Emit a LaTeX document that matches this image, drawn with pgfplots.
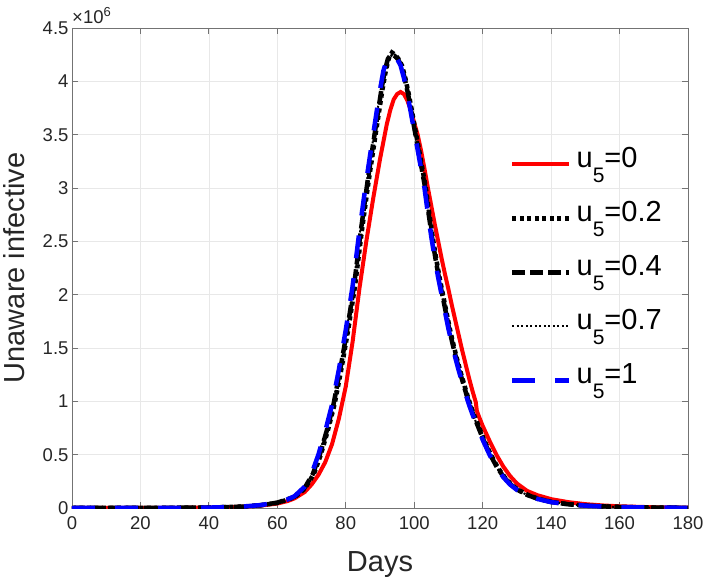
\documentclass[border=0pt]{standalone}
\usepackage{fontspec}
\setmainfont{Liberation Sans}
\usepackage{pgfplots}
\pgfplotsset{compat=1.18}
\usetikzlibrary{calc}
\definecolor{mred}{rgb}{1,0,0}
\definecolor{mblue}{rgb}{0,0,1}
\definecolor{frame}{gray}{0.45}
\definecolor{txt}{gray}{0.15}
% legend subscript as MATLAB draws it: big and well below the baseline
\newcommand{\usub}{u\raisebox{-15pt}{\fontsize{21}{21}\selectfont 5}}

\begin{document}
\begin{tikzpicture}
\begin{axis}[
    name=ax,
    scale only axis,
    width=616pt,
    height=480pt,
    xmin=0, xmax=180,
    ymin=0, ymax=4.5,
    xtick={0,20,40,60,80,100,120,140,160,180},
    ytick={0,0.5,1,1.5,2,2.5,3,3.5,4,4.5},
    /pgf/number format/assume math mode=true,
    ticklabel style={font=\fontsize{18.5}{18.5}\selectfont, text=txt},
    xticklabel style={yshift=-5pt},
    tick align=inside,
    tick pos=both,
    major tick length=6pt,
    axis line style={frame, line width=0.8pt},
    every tick/.style={frame, line width=0.8pt},
    grid=major,
    major grid style={gray!18, line width=0.6pt},
    xlabel={Days},
    ylabel={Unaware infective},
    label style={font=\fontsize{29}{29}\selectfont, text=txt},
    xlabel style={at={(axis description cs:0.5,-0.1333)}, anchor=base, inner sep=0pt},
    ylabel style={at={(axis description cs:-0.0763,0.5)}, anchor=south, inner sep=0pt},
    legend style={draw=none, fill=none, at={(axis description cs:0.711,0.754)},
        anchor=north west, inner sep=0pt, column sep=5pt,
        font=\fontsize{29}{30}\selectfont, row sep=18pt, text=black,
        nodes={inner sep=0pt, text height=21pt, text depth=15pt}},
    legend cell align=left,
    legend image code/.code={\draw[#1] (0pt,0pt) -- (57pt,0pt);},
]

% u5 = 0
\addplot[mred, line width=4pt] coordinates {
(0,0) (10,0.0002) (20,0.0006) (30,0.0015) (40,0.004) (45,0.007) (50,0.012)
(55,0.022) (60,0.042) (63,0.065) (65,0.09) (68,0.15) (70,0.22) (72,0.31)
(74,0.43) (76,0.6) (78,0.84) (80,1.14) (82,1.56) (84,2.06) (86,2.5) (88,2.9)
(90,3.27) (92,3.6) (93,3.73) (94,3.83) (95,3.88) (96,3.90) (97,3.88) (98,3.82)
(99,3.73) (100,3.61) (101,3.5) (102,3.35) (103,3.18) (104,3.0) (105,2.83)
(106,2.66) (107,2.5) (108,2.34) (109,2.19) (110,2.05) (111,1.9) (112,1.76)
(113,1.62) (114,1.48) (115,1.35) (116,1.22) (117,1.1) (118,0.99) (118.3,0.91)
(119,0.85) (120,0.77) (122,0.63) (124,0.5) (126,0.39) (128,0.3) (130,0.23)
(133,0.16) (136,0.12) (140,0.083) (145,0.055) (150,0.036) (155,0.024)
(160,0.016) (170,0.007) (180,0.003)
};
\addlegendentry{\usub=0}

% u5 = 0.2
\addplot[black, line width=4.5pt, dash pattern=on 4pt off 3.5pt] coordinates {
(0,0) (20,0.0006) (40,0.004) (50,0.013) (55,0.025) (60,0.048) (65,0.1)
(68,0.18) (70.7,0.32) (72.7,0.5) (74.7,0.72) (76.7,0.97) (78.7,1.3) (80.7,1.67)
(82.7,2.08) (84.7,2.6) (86.7,3.07) (88.7,3.5) (90.7,3.92) (91.7,4.1) (92.6,4.22)
(93.5,4.27) (94.4,4.25) (95.4,4.21) (96.4,4.15) (97.4,4.03) (98.4,3.88)
(99.4,3.71) (100.4,3.53) (101.4,3.36) (102.4,3.18) (103.4,3.0) (104.4,2.76)
(105.4,2.54) (106.4,2.34) (107.4,2.16) (108.4,2.0) (109.4,1.84) (110.4,1.68)
(111.4,1.54) (112.4,1.41) (113.4,1.29) (114.4,1.18) (115.4,1.07) (116.4,0.97)
(117.4,0.88) (118.4,0.8) (119.4,0.72) (120.4,0.64) (122.4,0.5) (124.4,0.38)
(126.4,0.29) (128.4,0.22) (130.4,0.17) (133.4,0.12) (136.4,0.085) (140.4,0.055)
(145,0.036) (150,0.023) (160,0.009) (170,0.004) (180,0.0015)
};
\addlegendentry{\usub=0.2}

% u5 = 0.4
\addplot[black, line width=4.5pt, dash pattern=on 13pt off 5pt] coordinates {
(0,0) (20,0.0006) (40,0.004) (50,0.013) (55,0.026) (60,0.05) (65,0.105)
(68,0.19) (70.4,0.32) (72.4,0.5) (74.4,0.72) (76.4,0.97) (78.4,1.3) (80.4,1.67)
(82.4,2.08) (84.4,2.6) (86.4,3.07) (88.4,3.5) (90.4,3.92) (91.4,4.1) (92.3,4.21)
(93.2,4.25) (94.2,4.24) (95.2,4.21) (96.2,4.15) (97.2,4.03) (98.2,3.88)
(99.2,3.71) (100.2,3.53) (101.2,3.36) (102.2,3.18) (103.2,3.0) (104.2,2.76)
(105.2,2.54) (106.2,2.34) (107.2,2.16) (108.2,2.0) (109.2,1.84) (110.2,1.68)
(111.2,1.54) (112.2,1.41) (113.2,1.29) (114.2,1.18) (115.2,1.07) (116.2,0.97)
(117.2,0.88) (118.2,0.8) (119.2,0.72) (120.2,0.64) (122.2,0.5) (124.2,0.38)
(126.2,0.29) (128.2,0.22) (130.2,0.17) (133.2,0.12) (136.2,0.085) (140.2,0.055)
(145,0.035) (150,0.022) (160,0.009) (170,0.004) (180,0.0015)
};
\addlegendentry{\usub=0.4}

% u5 = 0.7
\addplot[black, line width=2pt, dash pattern=on 2pt off 2.5pt] coordinates {
(0,0) (20,0.0006) (40,0.004) (50,0.014) (55,0.027) (60,0.051) (65,0.108)
(68,0.195) (70.2,0.32) (72.2,0.5) (74.2,0.72) (76.2,0.97) (78.2,1.3) (80.2,1.67)
(82.2,2.08) (84.2,2.6) (86.2,3.07) (88.2,3.5) (90.2,3.92) (91.2,4.1) (92.1,4.2)
(93.1,4.24) (94.1,4.23) (95.1,4.21) (96.1,4.15) (97.1,4.03) (98.1,3.88)
(99.1,3.71) (100.1,3.53) (101.1,3.36) (102.1,3.18) (103.1,3.0) (104.1,2.76)
(105.1,2.54) (106.1,2.34) (107.1,2.16) (108.1,2.0) (109.1,1.84) (110.1,1.68)
(111.1,1.54) (112.1,1.41) (113.1,1.29) (114.1,1.18) (115.1,1.07) (116.1,0.97)
(117.1,0.88) (118.1,0.8) (119.1,0.72) (120.1,0.64) (122.1,0.5) (124.1,0.38)
(126.1,0.29) (128.1,0.22) (130.1,0.17) (133.1,0.12) (136.1,0.085) (140.1,0.055)
(145,0.035) (150,0.022) (160,0.009) (170,0.004) (180,0.0015)
};
\addlegendentry{\usub=0.7}

% u5 = 1
\addplot[mblue, line width=4.5pt, dash pattern=on 23pt off 20pt] coordinates {
(0,0) (10,0.0002) (20,0.0006) (30,0.0015) (40,0.004) (45,0.008) (50,0.014)
(55,0.027) (60,0.052) (63,0.08) (65,0.11) (68,0.2) (70,0.32) (72,0.5) (74,0.72)
(76,0.97) (78,1.3) (80,1.67) (82,2.08) (84,2.6) (86,3.07) (88,3.5) (90,3.92)
(91,4.1) (92,4.2) (93,4.24) (94,4.23) (95,4.21) (96,4.15) (97,4.03) (98,3.88)
(99,3.71) (100,3.53) (101,3.36) (102,3.18) (103,3.0) (104,2.76) (105,2.54)
(106,2.34) (107,2.16) (108,2.0) (109,1.84) (110,1.68) (111,1.54) (112,1.41)
(113,1.29) (114,1.18) (115,1.07) (116,0.97) (117,0.88) (118,0.8) (119,0.72)
(120,0.64) (122,0.5) (124,0.38) (126,0.29) (128,0.22) (130,0.17) (133,0.12)
(136,0.085) (140,0.055) (145,0.035) (150,0.022) (155,0.014) (160,0.009)
(170,0.004) (180,0.0015)
};
\addlegendentry{\usub=1}

\end{axis}
\node[anchor=base west, inner sep=0pt, text=txt, font=\fontsize{18.5}{18.5}\selectfont]
    at ($(ax.north west)+(0pt,4pt)$) {×10\raisebox{7pt}{\fontsize{13}{13}\selectfont 6}};
\pgfresetboundingbox
\path ($(ax.south west)+(-72pt,-72pt)$) rectangle ($(ax.north east)+(20pt,28pt)$);
\end{tikzpicture}
\end{document}
